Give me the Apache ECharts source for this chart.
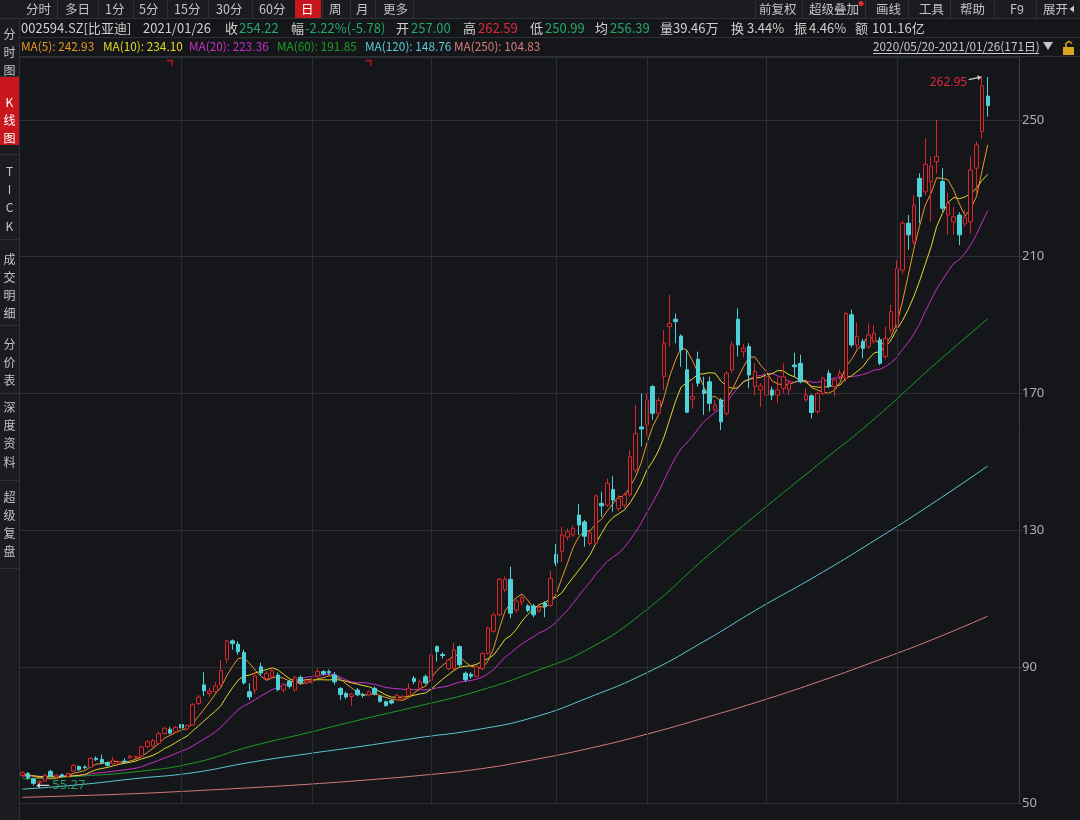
<!DOCTYPE html>
<html><head><meta charset="utf-8">
<script src="https://cdn.jsdelivr.net/npm/echarts/dist/echarts.min.js"></script>
<style>html,body{margin:0;padding:0;background:#141619;}#c{width:1080px;height:820px;}</style>
</head><body><div id="c"></div>
<script>
// ---------------- data ----------------
const dates = [
'2020/05/20','2020/05/21','2020/05/22','2020/05/25','2020/05/26','2020/05/27','2020/05/28','2020/05/29',
'2020/06/01','2020/06/02','2020/06/03','2020/06/04','2020/06/05','2020/06/08','2020/06/09','2020/06/10','2020/06/11','2020/06/12','2020/06/15','2020/06/16','2020/06/17','2020/06/18','2020/06/19','2020/06/22','2020/06/23','2020/06/24','2020/06/29','2020/06/30',
'2020/07/01','2020/07/02','2020/07/03','2020/07/06','2020/07/07','2020/07/08','2020/07/09','2020/07/10','2020/07/13','2020/07/14','2020/07/15','2020/07/16','2020/07/17','2020/07/20','2020/07/21','2020/07/22','2020/07/23','2020/07/24','2020/07/27','2020/07/28','2020/07/29','2020/07/30','2020/07/31',
'2020/08/03','2020/08/04','2020/08/05','2020/08/06','2020/08/07','2020/08/10','2020/08/11','2020/08/12','2020/08/13','2020/08/14','2020/08/17','2020/08/18','2020/08/19','2020/08/20','2020/08/21','2020/08/24','2020/08/25','2020/08/26','2020/08/27','2020/08/28','2020/08/31',
'2020/09/01','2020/09/02','2020/09/03','2020/09/04','2020/09/07','2020/09/08','2020/09/09','2020/09/10','2020/09/11','2020/09/14','2020/09/15','2020/09/16','2020/09/17','2020/09/18','2020/09/21','2020/09/22','2020/09/23','2020/09/24','2020/09/25','2020/09/28','2020/09/29','2020/09/30',
'2020/10/09','2020/10/12','2020/10/13','2020/10/14','2020/10/15','2020/10/16','2020/10/19','2020/10/20','2020/10/21','2020/10/22','2020/10/23','2020/10/26','2020/10/27','2020/10/28','2020/10/29','2020/10/30',
'2020/11/02','2020/11/03','2020/11/04','2020/11/05','2020/11/06','2020/11/09','2020/11/10','2020/11/11','2020/11/12','2020/11/13','2020/11/16','2020/11/17','2020/11/18','2020/11/19','2020/11/20','2020/11/23','2020/11/24','2020/11/25','2020/11/26','2020/11/27','2020/11/30',
'2020/12/01','2020/12/02','2020/12/03','2020/12/04','2020/12/07','2020/12/08','2020/12/09','2020/12/10','2020/12/11','2020/12/14','2020/12/15','2020/12/16','2020/12/17','2020/12/18','2020/12/21','2020/12/22','2020/12/23','2020/12/24','2020/12/25','2020/12/28','2020/12/29','2020/12/30','2020/12/31',
'2021/01/04','2021/01/05','2021/01/06','2021/01/07','2021/01/08','2021/01/11','2021/01/12','2021/01/13','2021/01/14','2021/01/15','2021/01/18','2021/01/19','2021/01/20','2021/01/21','2021/01/22','2021/01/25','2021/01/26'
];
const opens = [
58.2,58.8,57.2,56.0,56.6,59.4,57.8,58.4,57.9,59.5,
60.8,60.7,60.6,63.2,62.9,62.0,61.6,61.7,62.4,63.3,
63.4,63.8,66.6,66.8,67.6,70.5,71.7,71.0,73.1,71.8,
73.0,79.3,84.7,82.2,82.7,84.7,92.2,97.6,96.6,94.2,
82.7,83.2,90.0,86.6,87.1,87.6,83.2,85.7,83.2,86.9,
85.3,85.6,87.3,88.6,88.6,87.6,83.7,82.2,81.3,83.2,
81.9,81.7,83.7,81.3,79.8,80.1,80.3,80.6,81.7,86.6,
83.7,87.1,86.1,95.9,93.6,89.5,89.6,95.9,88.1,87.8,
87.2,89.5,93.9,100.4,105.2,112.5,115.6,106.6,109.0,107.8,
107.8,106.3,108.7,108.0,122.9,123.7,128.0,128.6,134.4,132.4,
126.1,126.2,137.8,137.3,141.9,136.3,137.3,140.3,147.6,160.2,
160.8,172.0,164.2,174.9,189.5,191.7,186.8,176.9,168.3,180.0,
171.0,173.4,165.2,168.1,164.2,176.9,191.7,182.2,183.7,172.0,
171.0,169.5,171.0,169.5,171.5,171.0,178.3,178.8,168.1,169.3,
164.7,170.0,175.9,172.0,174.9,174.4,193.0,184.2,185.2,183.7,
185.2,185.7,180.8,188.6,190.0,206.1,219.8,214.4,232.9,229.0,
231.9,237.8,232.0,222.2,220.2,222.2,219.6,220.2,235.9,246.6,
257.00];
const closes = [
59.0,57.5,55.9,56.4,58.3,58.0,58.3,57.9,58.8,61.1,
59.9,60.5,63.2,62.9,61.9,61.2,62.7,62.2,62.2,63.9,
63.8,66.6,68.1,68.4,70.5,72.0,70.6,72.3,72.1,72.8,
79.0,81.1,83.0,82.9,84.4,88.9,97.6,96.8,94.4,85.3,
81.2,87.3,88.2,88.1,88.9,83.3,84.7,84.3,86.9,85.3,
85.9,86.1,88.6,88.0,88.3,85.6,81.9,81.2,82.0,81.8,
81.6,82.7,82.1,79.9,78.7,79.4,81.7,81.2,83.7,85.7,
85.6,85.3,93.4,94.5,93.3,92.0,94.9,90.6,86.2,87.2,
90.0,93.9,101.3,105.2,115.6,115.6,105.7,109.2,110.2,106.5,
105.2,107.4,107.6,115.8,120.4,128.6,129.5,130.5,131.5,128.2,
129.2,140.0,137.1,143.7,138.8,139.3,140.3,151.5,158.3,159.6,
168.1,164.2,167.9,184.7,190.5,191.0,182.7,164.5,169.1,173.0,
170.0,167.1,166.6,161.7,175.9,184.2,184.2,183.2,175.4,176.4,
172.2,174.9,169.5,171.0,174.9,173.0,177.8,173.4,169.5,164.4,
170.0,174.4,172.0,173.9,175.9,193.4,184.2,186.6,183.2,187.1,
187.6,178.8,186.1,193.9,206.6,219.8,216.4,225.1,227.6,237.0,
236.5,239.3,224.2,225.6,221.7,216.4,221.5,235.4,242.7,260.0,
254.22];
const lows = [
57.6,57.0,55.27,55.6,56.4,57.8,57.5,57.6,57.7,59.2,
59.6,60.0,60.3,62.4,61.5,60.8,61.3,61.4,61.6,63.0,
63.1,63.6,66.2,66.5,67.3,70.0,70.2,70.7,71.6,71.4,
72.8,78.8,81.5,81.2,82.3,84.3,91.0,95.0,93.5,84.8,
80.3,82.0,87.5,86.0,86.5,82.8,82.5,83.6,82.8,84.8,
84.8,85.0,86.9,87.4,87.6,84.8,80.3,80.6,78.6,81.4,
81.0,81.3,81.6,79.5,78.3,79.0,79.9,80.2,81.3,84.9,
83.2,84.8,85.8,91.5,92.4,89.0,88.6,90.0,85.6,86.5,
86.8,89.0,93.5,100.0,104.8,111.8,104.2,105.8,108.0,106.0,
104.5,105.8,104.5,107.5,119.5,120.7,127.0,128.0,128.6,125.1,
125.5,125.8,133.9,136.8,135.4,135.5,136.6,139.8,146.8,154.4,
157.7,162.3,163.5,171.0,183.7,184.7,177.8,164.2,165.6,172.0,
163.7,164.7,164.7,159.3,163.5,176.0,180.8,180.5,171.5,169.5,
166.1,168.1,168.1,167.1,170.0,169.5,174.9,173.0,167.6,162.7,
164.0,169.5,171.5,169.1,174.0,173.5,183.5,183.0,180.3,183.0,
184.5,178.3,180.0,187.8,189.0,205.0,212.0,213.5,219.8,228.0,
220.3,234.4,223.2,216.4,216.4,213.4,218.8,216.8,228.6,244.6,
250.99];
const highs = [
59.6,59.2,57.5,56.8,58.6,59.9,58.6,58.7,59.0,61.6,
61.2,61.2,63.5,63.8,64.3,62.3,63.7,62.6,63.2,64.2,
64.0,66.9,68.5,68.9,71.0,72.5,72.4,72.7,75.2,73.2,
79.3,81.8,88.4,83.8,85.5,92.0,97.8,98.0,97.5,95.0,
85.2,88.5,91.2,88.8,89.5,88.3,85.3,86.2,87.4,87.5,
86.4,86.8,89.6,89.0,89.2,88.5,84.0,82.7,82.3,83.8,
82.4,83.1,84.2,81.7,80.1,80.5,82.0,81.8,85.2,87.3,
86.3,87.8,93.8,96.3,94.2,92.4,97.0,96.3,88.6,88.4,
90.5,94.3,101.8,105.8,116.0,116.4,119.3,109.8,110.8,108.3,
108.4,107.9,109.2,118.1,125.9,131.0,130.5,131.3,137.6,133.0,
129.8,140.5,141.2,145.1,145.8,140.2,141.0,153.4,166.6,170.0,
170.0,172.5,168.8,188.6,198.8,193.4,187.3,182.7,173.0,182.2,
174.9,174.9,168.1,168.6,176.5,185.2,194.9,184.5,184.7,178.8,
173.0,176.9,172.0,174.9,178.8,174.0,181.9,181.3,171.5,169.8,
170.5,174.9,176.9,174.5,177.0,194.0,194.5,190.7,186.0,190.5,
190.0,186.5,189.5,195.9,209.0,220.5,222.2,228.0,234.4,244.6,
239.3,250.0,235.9,228.7,224.6,223.0,223.7,239.3,243.7,262.95,
262.59];
// closes of the 19 sessions before 2020/05/20 (for the short moving averages)
const priorCloses = [56.8,57.2,57.9,58.3,57.6,57.0,57.5,58.1,58.6,58.2,57.7,57.9,58.4,58.8,58.3,57.8,58.0,58.5,58.9];
// long moving averages at these sessions
const maSampleIdx = [0,10,20,30,40,50,60,70,80,90,100,110,120,130,140,150,160,170];
const ma60Read  = [57.2,58.0,59.3,61.8,66.6,70.6,74.7,78.6,82.8,88.5,95.5,106.8,121.5,135.5,149.0,162.5,177.5,191.85];
const ma120Read = [54.2,55.5,57.3,59.0,62.0,64.5,66.8,69.3,71.6,75.2,81.2,88.3,97.4,107.4,116.8,126.9,137.5,148.76];
const ma250Read = [51.8,52.3,52.9,53.7,54.6,55.6,56.8,58.2,60.0,62.8,66.2,70.3,75.0,80.0,85.5,91.5,97.8,104.83];
const monthDividers = ['2020/07/01','2020/08/03','2020/09/01','2020/10/09','2020/11/02','2020/12/01','2021/01/04'];
const infoMarkDates = ['2020/06/29','2020/08/17'];
const yTicks = {min: 50, interval: 40};
const tabs = ['分时','多日','1分','5分','15分','30分','60分','日','周','月','更多'];
const rightTabs = ['前复权','超级叠加','画线','工具','帮助','F9','展开'];
const sideItems = [['分','时','图'],['K','线','图'],['T','I','C','K'],['成','交','明','细'],['分','价','表'],['深','度','资','料'],['超','级','复','盘']];
const quote = {code:'002594.SZ[比亚迪]', date:'2021/01/26', close:'254.22', chg:'-2.22%(-5.78)', open:'257.00', high:'262.59', low:'250.99', avg:'256.39', vol:'39.46万', turn:'3.44%', amp:'4.46%', amt:'101.16亿'};
const maLegend = [['MA(5): 242.93','#e8962a'],['MA(10): 234.10','#e2d82c'],['MA(20): 223.36','#c62fc8'],['MA(60): 191.85','#1f9e26'],['MA(120): 148.76','#5fc9d6'],['MA(250): 104.83','#d67c7c']];
const rangeText = '2020/05/20-2021/01/26(171日)';

// ---------------- derived ----------------
const BG = '#141619', PANEL = '#1a1c20', SEP = '#2d3035', GRIDC = '#2b2e33';
const FONT = '"Noto Sans CJK SC","Noto Sans",sans-serif';
const UP = '#d9262c', DOWN = '#4fd1d9';
const PAD = 5;
const cats = dates.concat(Array.from({length: PAD}, (_, i) => ' ' + i));
const candles = dates.map((d, i) => [opens[i], closes[i], lows[i], highs[i]]);
const allC = priorCloses.concat(closes);
function ma(n) {
  return closes.map((_, i) => {
    const e = i + priorCloses.length;
    if (e - n + 1 < 0) return '-';
    let s = 0; for (let k = e - n + 1; k <= e; k++) s += allC[k];
    return +(s / n).toFixed(2);
  });
}
const pairs = vals => maSampleIdx.map((ix, k) => [ix, vals[k]]);
let hiIdx = 0, loIdx = 0;
highs.forEach((v, i) => { if (v > highs[hiIdx]) hiIdx = i; });
lows.forEach((v, i) => { if (v < lows[loIdx]) loIdx = i; });
const Y_MAX = 268.44;

// ---------------- header / sidebar graphics ----------------
const G = [];
function T(x, y, text, fill, size, align) { G.push({type:'text', x, y, z:100, silent:true, style:{text, fill, fontSize:size||13, fontFamily:FONT, align:align||'left', verticalAlign:'middle'}}); }
function R(x, y, w, h, fill) { G.push({type:'rect', z:99, silent:true, shape:{x, y, width:w, height:h}, style:{fill}}); }
function L(x1, y1, x2, y2, stroke) { G.push({type:'line', z:100, silent:true, shape:{x1, y1, x2, y2}, style:{stroke:stroke||SEP, lineWidth:1}}); }

R(0, 0, 1080, 18.5, PANEL);
R(19.5, 18.5, 1060.5, 38, BG);
R(295, 0, 26, 18, '#c8161d');
const tabX = [26,65,105,139,174,216,259,301,329,356,383];
tabs.forEach((t, i) => T(tabX[i], 9, t, t === '日' ? '#ffffff' : '#c4c4c4', 12.5));
[57,98,133,167,208,252,322,350,375,413].forEach(x => L(x + 0.5, 0, x + 0.5, 18));
const rtX = [759,809,876,919,960,1010,1043];
rightTabs.forEach((t, i) => T(rtX[i], 9, t, '#c4c4c4', 12.5));
[755,802,865,908,950,994,1036].forEach(x => L(x + 0.5, 0, x + 0.5, 18));
G.push({type:'circle', z:101, silent:true, shape:{cx:861, cy:3.5, r:2.5}, style:{fill:'#e52a2a'}});
G.push({type:'polygon', z:101, silent:true, shape:{points:[[1074,5.5],[1074,12.5],[1069.5,9]]}, style:{fill:'#c4c4c4'}});
L(0, 18.5, 1080, 18.5);
L(19.5, 37.5, 1080, 37.5);
L(19.5, 56.5, 1080, 56.5);

// quote row
const LBL = '#cfcfcf', GRN = '#25a866', RED = '#e0283a';
T(21, 28.5, quote.code, LBL); T(143, 28.5, quote.date, LBL);
T(225, 28.5, '收', LBL); T(239, 28.5, quote.close, GRN);
T(291, 28.5, '幅', LBL); T(305, 28.5, quote.chg, GRN);
T(396, 28.5, '开', LBL); T(411, 28.5, quote.open, GRN);
T(463, 28.5, '高', LBL); T(478, 28.5, quote.high, RED);
T(530, 28.5, '低', LBL); T(545, 28.5, quote.low, GRN);
T(595, 28.5, '均', LBL); T(610, 28.5, quote.avg, GRN);
T(660, 28.5, '量', LBL); T(673, 28.5, quote.vol, LBL);
T(731, 28.5, '换', LBL); T(747, 28.5, quote.turn, LBL);
T(794, 28.5, '振', LBL); T(809, 28.5, quote.amp, LBL);
T(855, 28.5, '额', LBL); T(872, 28.5, quote.amt, LBL);
// MA legend row
const maX = [21,103,189,277,365,454];
maLegend.forEach((m, i) => T(maX[i], 46.5, m[0], m[1], 11.8));
T(873, 46.5, rangeText, '#c8c8c8', 11.8);
L(873, 53.5, 1039, 53.5, '#c8c8c8');
G.push({type:'polygon', z:101, silent:true, shape:{points:[[1043,42],[1053,42],[1048,50]]}, style:{fill:'#c4c4c4'}});
G.push({type:'rect', z:101, silent:true, shape:{x:1063, y:47, width:11, height:8}, style:{fill:'#d9a520'}});
G.push({type:'polyline', z:101, silent:true, shape:{points:[[1066,47],[1066,43.5],[1069,41.5],[1072,43.5]]}, style:{stroke:'#d9a520', lineWidth:1.5, fill:null}});

// sidebar
R(0, 18.5, 19, 801.5, PANEL);
R(0, 77, 19, 68, '#c8161d');
L(19.5, 18.5, 19.5, 820);
const sideY = [[34,52,70],[102,120,138],[171,189.5,207.7,226],[259,277,295,313],[344,362,380],[407,425,443.5,462],[497,515,533,551]];
sideItems.forEach((grp, g) => grp.forEach((ch, k) => T(9.5, sideY[g][k], ch, g === 1 ? '#ffffff' : '#c4c4c4', 12, 'center')));
[76.5,154.5,239.5,325.5,393.5,480.5,568.5].forEach(y => L(0, y, 19, y));

// ---------------- chart ----------------
const chart = echarts.init(document.getElementById('c'));
const arrowRight = 'path://M0,4.4 L10,4.4 L10,2.6 L14,5 L10,7.4 L10,5.6 L0,5.6 Z';
const arrowLeft = 'path://M14,4.4 L4,4.4 L4,2.6 L0,5 L4,7.4 L4,5.6 L14,5.6 Z';
const maLine = (name, data, color, smooth) => ({
  name, type:'line', data, symbol:'none', smooth: smooth ? 0.5 : false,
  lineStyle:{color, width:1}, z:3, silent:true, animation:false
});
chart.setOption({
  backgroundColor: BG,
  animation: false,
  grid: {left: 19.5, right: 61, top: 57, bottom: 16.5, containLabel: false, outerBoundsMode: 'none'},
  xAxis: {type:'category', data: cats, boundaryGap: true,
    axisLine:{show:false}, axisTick:{show:false}, axisLabel:{show:false}, splitLine:{show:false}},
  yAxis: {type:'value', position:'right', min: yTicks.min, max: Y_MAX, interval: yTicks.interval, scale:false,
    axisLine:{show:true, lineStyle:{color:'#3a3d42'}},
    axisTick:{show:true, length:3, lineStyle:{color:'#3a3d42'}},
    axisLabel:{show:true, color:'#b0b0b0', fontSize:13, fontFamily:'"Noto Sans",sans-serif', margin:3, showMaxLabel:false},
    splitLine:{show:true, lineStyle:{color:GRIDC, width:1}}},
  graphic: G,
  series: [
    {type:'line', data:[], z:1, silent:true,
      markLine:{silent:true, symbol:['none','none'], animation:false, label:{show:false},
        lineStyle:{color:GRIDC, width:1, type:'solid'},
        data: monthDividers.map(d => ({xAxis: d}))}},
    maLine('MA250', pairs(ma250Read), '#d67c7c', true),
    maLine('MA120', pairs(ma120Read), '#5fc9d6', true),
    maLine('MA60', pairs(ma60Read), '#1f9e26', true),
    {type:'candlestick', data: candles, barWidth: 4, z:4, silent:true,
      itemStyle:{color: BG, color0: DOWN, borderColor: UP, borderColor0: DOWN, borderWidth: 1},
      markPoint:{silent:true, animation:false, data:[
        {coord:[hiIdx, highs[hiIdx]], symbol: arrowRight, symbolSize:[13,5], symbolOffset:[-7, 2.5], symbolRotate: 12,
          itemStyle:{color:'#d0d0d0'},
          label:{show:true, position:'left', distance:1, offset:[0, 4], formatter: highs[hiIdx].toFixed(2), color: RED, fontSize:12, fontFamily:'"Noto Sans",sans-serif'}},
        {coord:[loIdx, lows[loIdx]], symbol: arrowLeft, symbolSize:[13,5], symbolOffset:[9, 0],
          itemStyle:{color:'#d0d0d0'},
          label:{show:true, position:'right', distance:3, formatter: lows[loIdx].toFixed(2), color:'#2a9d62', fontSize:13, fontFamily:'"Noto Sans",sans-serif'}}
      ]}},
    maLine('MA20', ma(20), '#c62fc8', false),
    maLine('MA10', ma(10), '#e2d82c', false),
    maLine('MA5', ma(5), '#e8962a', false),
    {type:'scatter', data: infoMarkDates.map(d => [d, Y_MAX - 1.7]), symbol:'path://M0,0 L6,0 L6,6 L4.4,6 L4.4,1.6 L0,1.6 Z',
      symbolSize:6, itemStyle:{color:'#d01818'}, z:5, silent:true}
  ]
});
</script>
</body></html>
